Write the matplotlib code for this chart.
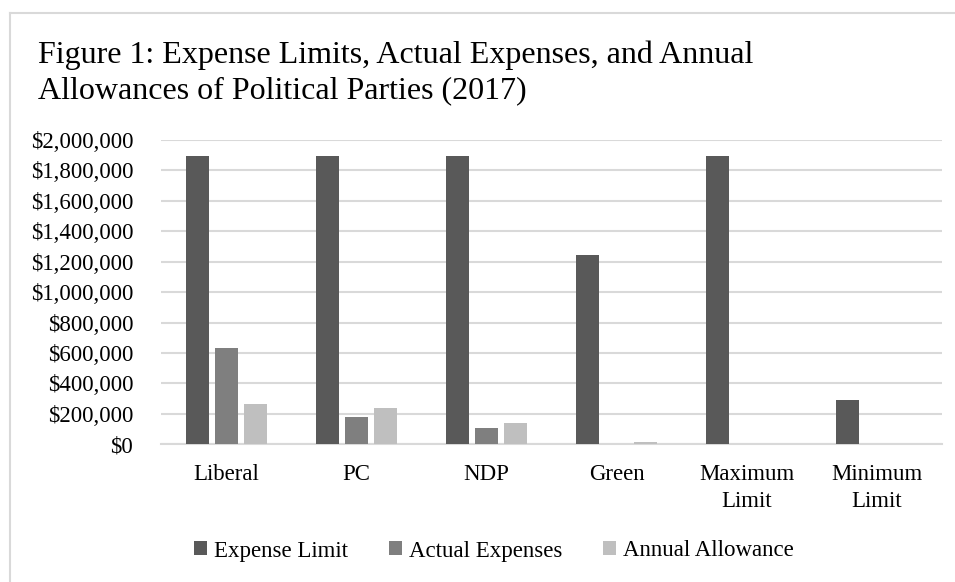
import matplotlib.pyplot as plt
import numpy as np
from matplotlib.ticker import FuncFormatter
from matplotlib.lines import Line2D

plt.rcParams['font.family'] = ['Liberation Serif', 'DejaVu Serif']

# Data
categories = ['Liberal', 'PC', 'NDP', 'Green', 'Maximum\nLimit', 'Minimum\nLimit']
expense_limit = [1897000, 1897000, 1897000, 1245000, 1897000, 290000]
actual_expenses = [632000, 180000, 105000, 3000, 0, 0]
annual_allowance = [265000, 239000, 140000, 13000, 0, 0]

series = [('Expense Limit', expense_limit, '#595959'),
          ('Actual Expenses', actual_expenses, '#7f7f7f'),
          ('Annual Allowance', annual_allowance, '#bfbfbf')]

W, H = 955, 582
fig = plt.figure(figsize=(W / 100, H / 100), dpi=100)
ax = fig.add_axes([161 / W, 1 - 444.3 / H, (942 - 161) / W, (444.3 - 140) / H])

x = np.arange(len(categories))
width = 0.177
offsets = [-0.223, 0, 0.223]
handles = []
for (name, vals, col), off in zip(series, offsets):
    b = ax.bar(x + off, vals, width, color=col, label=name, zorder=3)
    handles.append(b)

ax.set_xlim(-0.5, len(categories) - 0.5)
ax.set_ylim(0, 2000000)
ax.set_yticks(np.arange(0, 2000001, 200000))
ax.yaxis.set_major_formatter(FuncFormatter(lambda v, p: '${:,.0f}'.format(v)))
ax.grid(axis='y', color='#d9d9d9', linewidth=1.5, zorder=0)
for s in ['top', 'right', 'left']:
    ax.spines[s].set_visible(False)
ax.spines['bottom'].set_color('#d9d9d9')
ax.spines['bottom'].set_linewidth(1.5)
ax.tick_params(axis='both', length=0, labelsize=16.5, colors='black')
ax.tick_params(axis='y', pad=20)
ax.tick_params(axis='x', pad=14)
ax.set_xticks(x)
ax.set_xticklabels(categories, linespacing=1.4)

fig.text(38 / W, 1 - 63.5 / H, 'Figure 1: Expense Limits, Actual Expenses, and Annual',
         fontsize=23, va='baseline', ha='left')
fig.text(38 / W, 1 - 98.5 / H, 'Allowances of Political Parties (2017)',
         fontsize=23, va='baseline', ha='left')

fig.legend(handles=handles, loc='center', bbox_to_anchor=(494 / W, 1 - 551 / H), ncol=3,
           frameon=False, fontsize=16.5, handlelength=0.55, handleheight=0.55,
           handletextpad=0.3, columnspacing=1.8)

# light chart border
fig.add_artist(Line2D([10 / W, 1], [1 - 13 / H, 1 - 13 / H], color='#d9d9d9', lw=1.5))
fig.add_artist(Line2D([10 / W, 10 / W], [0, 1 - 13 / H], color='#d9d9d9', lw=1.5))

fig.savefig('out.png', dpi=100)
